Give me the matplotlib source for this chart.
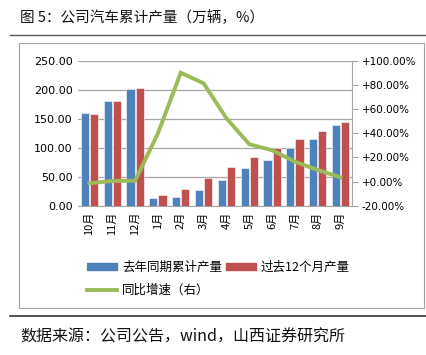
import matplotlib
matplotlib.use("Agg")
import matplotlib.pyplot as plt
import numpy as np
from matplotlib.lines import Line2D
from matplotlib.patches import Patch

plt.rcParams['font.family'] = ['Noto Sans CJK SC', 'DejaVu Sans']

months = ["10月", "11月", "12月", "1月", "2月", "3月", "4月", "5月", "6月", "7月", "8月", "9月"]
last_year_cum = [161, 181, 202, 14, 15.5, 26.5, 45, 64.5, 79.5, 100, 116, 139]
past_12m = [159, 181, 204, 19, 29, 48, 67, 84, 100, 116, 129, 145]
yoy_growth = [-1.4, 0.5, 0.7, 40, 90.3, 81.5, 52.5, 31, 26, 16.5, 9.6, 3.5]

blue = "#4F81BD"
red = "#C0504D"
green = "#9BBB59"
grid_c = "#A6A6A6"

fig = plt.figure(figsize=(4.27, 3.55), dpi=100)

# title, rules, frame
fig.text(20 / 427, 1 - 18 / 355, "图 5：公司汽车累计产量（万辆，%）", fontsize=10.5,
         va="center", ha="left", color="#111111")
fig.add_artist(Line2D([10 / 427, 1], [1 - 35 / 355] * 2, color="#555555", lw=1.0))
fig.add_artist(plt.Rectangle((19 / 427, 1 - 308 / 355), 405 / 427, 265 / 355,
                             fill=False, edgecolor="#A0A0A0", lw=0.8))
fig.add_artist(Line2D([10 / 427, 1], [1 - 316 / 355] * 2, color="#333333", lw=1.2))
fig.text(20 / 427, 1 - 337 / 355, "数据来源：公司公告，wind，山西证券研究所", fontsize=11.5,
         va="center", ha="left", color="#111111")

ax = fig.add_axes([78 / 427, 1 - 205.7 / 355, 274 / 427, 144.7 / 355])
ax2 = ax.twinx()

x = np.arange(len(months))
w = 0.36
ax.bar(x - w / 2 - 0.02, last_year_cum, w, color=blue, edgecolor="white", lw=0.4, zorder=3)
ax.bar(x + w / 2 + 0.02, past_12m, w, color=red, edgecolor="white", lw=0.4, zorder=3)
ax.set_ylim(0, 250)
ax.set_yticks(np.arange(0, 251, 50))
ax.set_yticklabels([f"{v:.2f}" for v in np.arange(0, 251, 50)], fontsize=8,
                   family="DejaVu Sans")
ax.yaxis.grid(True, color=grid_c, lw=0.9, zorder=0)
ax.set_axisbelow(True)
ax.set_xlim(-0.5, len(months) - 0.5)
ax.set_xticks(x)
ax.set_xticklabels(months, rotation=90, fontsize=8)
ax.tick_params(axis="y", length=0, pad=4)
ax.tick_params(axis="x", length=0, pad=4)
for s in ["top", "left", "right"]:
    ax.spines[s].set_visible(False)
ax.spines["bottom"].set_color(grid_c)

ax2.plot(x, yoy_growth, color=green, lw=2.8, solid_joinstyle="miter", zorder=4)
ax2.set_ylim(-20, 100)
rt = np.arange(-20, 101, 20)
ax2.set_yticks(rt)
ax2.set_yticklabels([f"{v:+.2f}%" for v in rt], fontsize=7.5, family="DejaVu Sans")
ax2.tick_params(axis="y", length=4, color=grid_c, pad=3)
for s in ["top", "left", "bottom"]:
    ax2.spines[s].set_visible(False)
ax2.spines["right"].set_color(grid_c)

# column-major fill: blue/green in column 1, red in column 2
handles = [Patch(color=blue, label="去年同期累计产量"),
           Line2D([0], [0], color=green, lw=2.8, label="同比增速（右）"),
           Patch(color=red, label="过去12个月产量")]
leg = fig.legend(handles=handles, loc="upper left", bbox_to_anchor=(76 / 427, 1 - 250 / 355),
                 ncol=2, frameon=False, fontsize=9, handlelength=2.4, handleheight=0.5,
                 columnspacing=0.3, handletextpad=0.4, labelspacing=0.75)

fig.savefig("out.png", dpi=100)
